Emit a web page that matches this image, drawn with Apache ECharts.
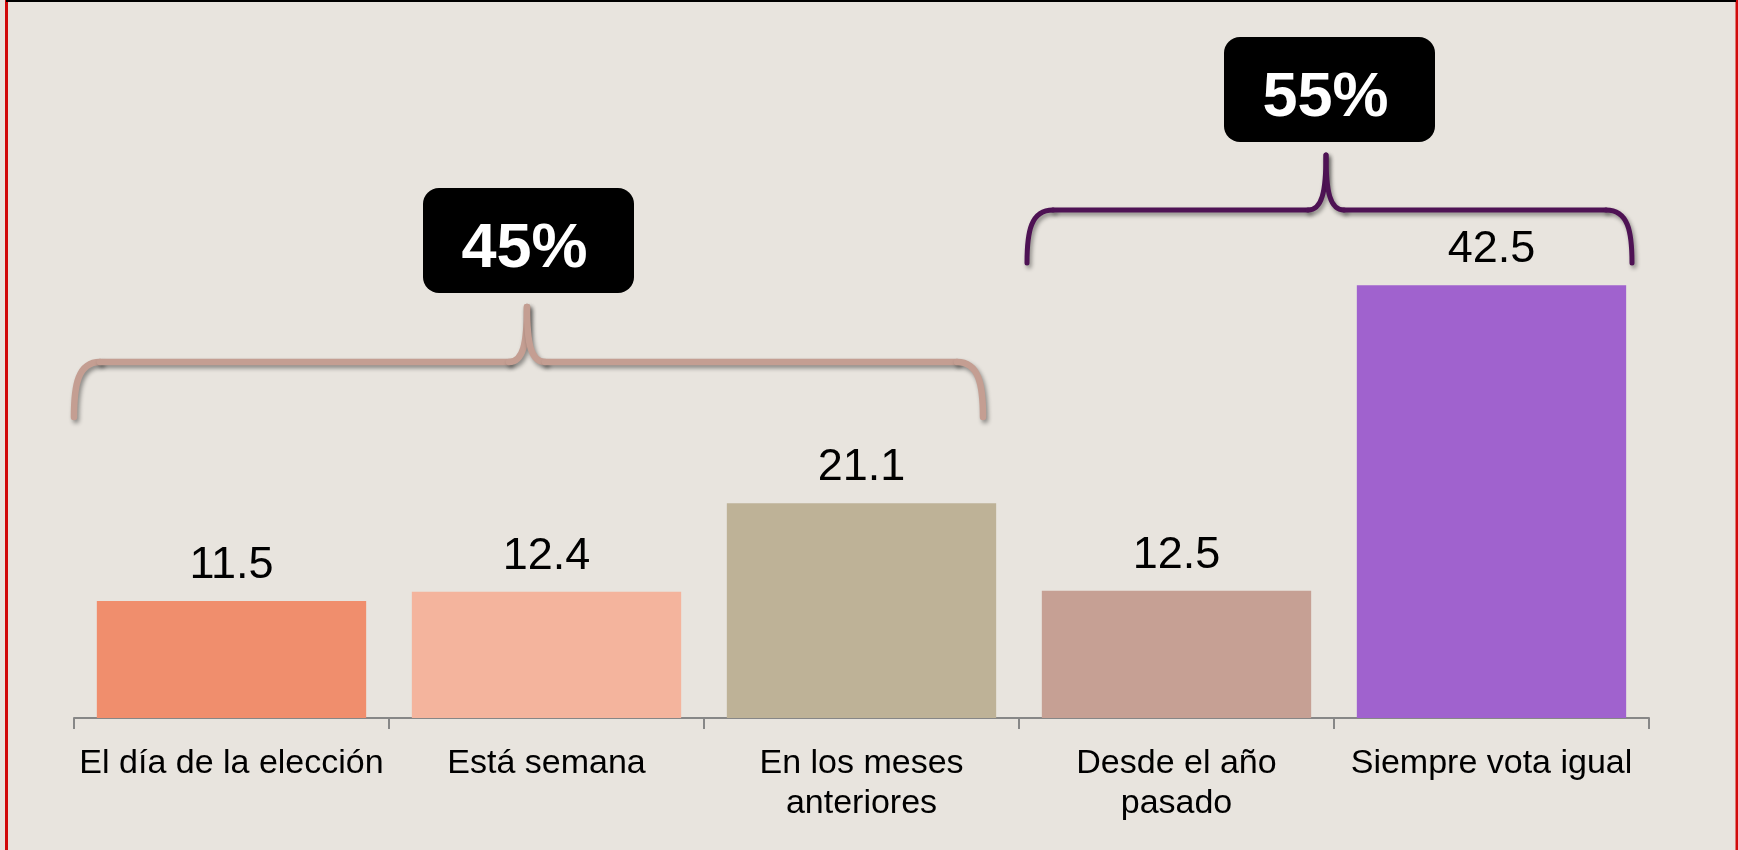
<!DOCTYPE html>
<html>
<head>
<meta charset="utf-8">
<title>Momento de decisión del voto</title>
<script src="https://cdn.jsdelivr.net/npm/echarts@6/dist/echarts.min.js"></script>
<style>
  html, body { margin: 0; padding: 0; background: #e8e4de; }
  #chart { width: 1738px; height: 850px; }
</style>
</head>
<body>
<div id="chart"></div>
<script>
// datos del gráfico
const categories = ['El día de la elección', 'Está semana', 'En los meses\nanteriores', 'Desde el año\npasado', 'Siempre vota igual']
const values = [11.5, 12.4, 21.1, 12.5, 42.5]
const barColors = ['#f08e6d', '#f4b49d', '#beb297', '#c6a094', '#a062ce']
const groupLabels = ['45%', '55%']

// llave tipo "{" horizontal, hecha de curvas y líneas
function braceElements(x0, x1, xc, yb, yh, yt, color, width) {
  const style = {
    fill: null,
    stroke: color,
    lineWidth: width,
    lineCap: 'round',
    shadowColor: 'rgba(0,0,0,0.4)',
    shadowBlur: 4,
    shadowOffsetX: 2,
    shadowOffsetY: 3
  }
  const curve = (ax, ay, c1x, c1y, c2x, c2y, bx, by) => ({
    type: 'bezierCurve',
    shape: { x1: ax, y1: ay, cpx1: c1x, cpy1: c1y, cpx2: c2x, cpy2: c2y, x2: bx, y2: by },
    style: style,
    z: 10
  })
  const line = (ax, ay, bx, by) => ({
    type: 'line',
    shape: { x1: ax, y1: ay, x2: bx, y2: by },
    style: style,
    z: 10
  })
  return [
    curve(x0, yb, x0, yb - 32, x0 + 4, yh, x0 + 26, yh),
    line(x0 + 26, yh, xc - 18, yh),
    curve(xc - 18, yh, xc - 4, yh, xc, yh - 18, xc, yt),
    curve(xc, yt, xc, yh - 18, xc + 4, yh, xc + 18, yh),
    line(xc + 18, yh, x1 - 26, yh),
    curve(x1 - 26, yh, x1 - 4, yh, x1, yb - 32, x1, yb)
  ]
}

function labelBox(x, y, w, h, text) {
  return [
    { type: 'rect', shape: { x: x, y: y, width: w, height: h, r: 16 }, style: { fill: '#000' }, z: 11 },
    {
      type: 'text',
      x: x + w / 2 - 4,
      y: y + h / 2 + 9,
      style: {
        text: text,
        fill: '#fff',
        font: 'bold 63px "Liberation Sans", Arial, sans-serif',
        align: 'center',
        verticalAlign: 'middle'
      },
      z: 12
    }
  ]
}

const chart = echarts.init(document.getElementById('chart'), null, { renderer: 'canvas' })

const option = {
  backgroundColor: '#e8e4de',
  animation: false,
  grid: { left: 74, right: 89, top: 209, bottom: 132 },
  xAxis: {
    type: 'category',
    data: categories,
    axisLine: { lineStyle: { color: '#878787', width: 2 } },
    axisTick: { show: true, length: 11, lineStyle: { color: '#878787', width: 2 } },
    axisLabel: {
      color: '#000',
      fontSize: 34,
      lineHeight: 40,
      margin: 26,
      fontFamily: '"Liberation Sans", Arial, sans-serif',
      interval: 0
    }
  },
  yAxis: {
    type: 'value',
    min: 0,
    max: 50,
    show: false,
    splitLine: { show: false }
  },
  series: [{
    type: 'bar',
    barCategoryGap: '14.5%',
    data: values.map((v, i) => ({ value: v, itemStyle: { color: barColors[i] } })),
    label: {
      show: true,
      position: 'top',
      distance: 13,
      color: '#000',
      fontSize: 45,
      fontFamily: '"Liberation Sans", Arial, sans-serif'
    }
  }],
  graphic: [
    // marco
    { type: 'rect', shape: { x: 5, y: 0, width: 3, height: 850 }, style: { fill: '#d10a0a' }, z: 20 },
    { type: 'rect', shape: { x: 1735.5, y: 0, width: 2.5, height: 850 }, style: { fill: '#d10a0a' }, z: 20 },
    { type: 'rect', shape: { x: 6, y: 0, width: 1730, height: 2 }, style: { fill: '#000' }, z: 21 }
  ]
    .concat(braceElements(74, 983, 527, 417, 362, 307, '#c49e92', 6.5))
    .concat(braceElements(1027, 1632, 1326, 263, 210, 155, '#4e1254', 5))
    .concat(labelBox(423, 188, 211, 105, groupLabels[0]))
    .concat(labelBox(1224, 37, 211, 105, groupLabels[1]))
}

chart.setOption(option)
</script>
</body>
</html>
